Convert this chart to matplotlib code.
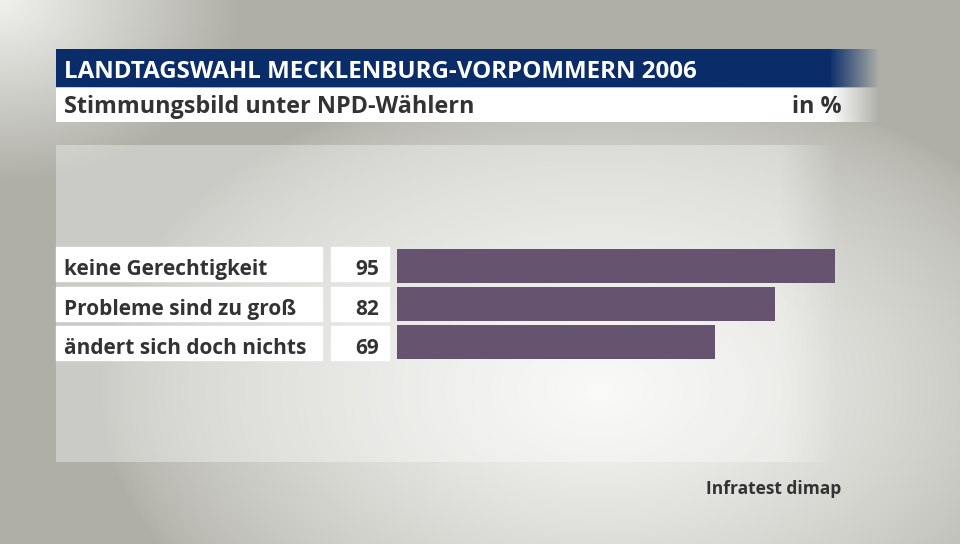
import numpy as np
import matplotlib
matplotlib.use("Agg")
import matplotlib.pyplot as plt
from matplotlib.patches import Rectangle

title = "LANDTAGSWAHL MECKLENBURG-VORPOMMERN 2006"
subtitle = "Stimmungsbild unter NPD-Wählern"
unit = "in %"
source = "Infratest dimap"
categories = ["keine Gerechtigkeit", "Probleme sind zu groß", "ändert sich doch nichts"]
values = [95, 82, 69]

W, H = 960, 544
fig = plt.figure(figsize=(W / 100, H / 100), dpi=100)

# background gradient
bg = fig.add_axes([0, 0, 1, 1])
bg.set_xlim(0, W)
bg.set_ylim(H, 0)
bg.axis("off")
yy, xx = np.mgrid[0:H, 0:W]
d1 = np.sqrt(((xx - 600) / 500.0) ** 2 + ((yy - 390) / 320.0) ** 2)
light = np.clip(1 - d1, 0, 1) ** 0.7
d2 = np.sqrt((xx / 240.0) ** 2 + (yy / 180.0) ** 2)
light = np.maximum(light, np.clip(1 - d2, 0, 1) * 0.9)
dark = np.array([0.69, 0.69, 0.66])
bright = np.array([0.97, 0.975, 0.96])
img = dark + (bright - dark) * light[..., None]
bg.imshow(img, extent=[0, W, H, 0], aspect="auto", zorder=0)

# chart panel overlay
panel = np.ones((1, 800, 4))
panel[0, :, 3] = np.clip((840 - np.linspace(56, 856, 800)) / 60, 0, 1) * 0.35
bg.imshow(panel, extent=[56, 856, 462, 145], aspect="auto", zorder=1)

# title bar with fading right end
xs = np.linspace(56, 880, 824)
bar_rgba = np.zeros((1, 824, 4))
bar_rgba[0, :, :3] = np.array([10, 45, 105]) / 255
bar_rgba[0, :, 3] = np.clip((880 - xs) / 50, 0, 1)
bg.imshow(bar_rgba, extent=[56, 880, 87, 49], aspect="auto", zorder=2)
sub_rgba = np.ones((1, 824, 4))
sub_rgba[0, :, 3] = np.clip((880 - xs) / 50, 0, 1)
bg.imshow(sub_rgba, extent=[56, 880, 122, 88], aspect="auto", zorder=2)

font = "Open Sans"
txt = "#333333"
bg.text(64, 78, title, color="white", fontsize=17.4, fontweight="bold",
        family=font, va="baseline", ha="left", zorder=3)
bg.text(64, 113, subtitle, color=txt, fontsize=16.8, fontweight="bold",
        family=font, va="baseline", ha="left", zorder=3)
bg.text(842, 113, unit, color=txt, fontsize=16.8, fontweight="bold",
        family=font, va="baseline", ha="right", zorder=3)
bg.text(841, 494, source, color=txt, fontsize=12.5, fontweight="bold",
        family=font, va="baseline", ha="right", zorder=3)

# rows
row_top = [247, 287, 326]
row_h = 34
for i, (cat, v) in enumerate(zip(categories, values)):
    y0 = row_top[i]
    bg.add_patch(Rectangle((56, y0), 266, row_h, color="white", zorder=2))
    bg.add_patch(Rectangle((331, y0), 58, row_h, color="white", zorder=2))
    bg.text(64, y0 + 28, cat, color=txt, fontsize=15, fontweight="bold",
            family=font, va="baseline", ha="left", zorder=3)
    bg.text(379, y0 + 28, str(v), color=txt, fontsize=15, fontweight="bold",
            family=font, va="baseline", ha="right", zorder=3)

# bars through their own axes
ax = fig.add_axes([397 / W, 1 - 361 / H, (835 - 397) / W, (361 - 247) / H])
ax.barh(range(len(values)), values, height=34 / 38, color="#665370", align="center")
ax.set_xlim(0, 95)
ax.set_ylim(len(values) - 0.5, -0.5)
ax.axis("off")
ax.patch.set_alpha(0)

fig.savefig("out.png", dpi=100)
